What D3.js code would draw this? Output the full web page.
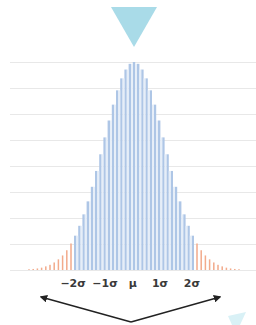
<!DOCTYPE html>
<html>
<head>
<meta charset="utf-8">
<script src="https://cdn.jsdelivr.net/npm/d3@7"></script>
<style>
	body { margin: 0; background: #fff; }
	svg { display: block; }
</style>
</head>
<body>
<script>
// bar offsets from the mean, in bar steps
var offsets = d3.range(-25, 26);
// bar heights in grid units (one unit = one gridline), right half incl. centre
var halfHeights = [8, 7.93, 7.71, 7.37, 6.91, 6.36, 5.75, 5.10, 4.45, 3.81, 3.20,
	2.64, 2.14, 1.70, 1.32, 1.02, 0.76, 0.56, 0.41, 0.29, 0.20, 0.14, 0.09, 0.06, 0.04, 0.03];
var heights = offsets.map(function(k) { return halfHeights[Math.abs(k)]; });
var tailFrom = 15; // |offset| at which bars turn orange
var gridLevels = d3.range(0, 9);
var tickLabels = ["\u22122\u03c3", "\u22121\u03c3", "\u03bc", "1\u03c3", "2\u03c3"];
var tickOffsets = [-14.5, -6.9, -0.3, 6.2, 13.8];

(function(){
	var svg = d3.select("body")
			.append("svg")
			.attr("width", 256)
			.attr("height", 325);

	var x = d3.scaleLinear().domain([-25, 25]).range([29, 239]);
	var y = d3.scaleLinear().domain([0, 8]).range([270, 62]);

	svg.append("g").selectAll("line")
			.data(gridLevels)
			.join("line")
			.attr("x1", 10)
			.attr("x2", 256)
			.attr("y1", function(d) { return y(d) + 0.5; })
			.attr("y2", function(d) { return y(d) + 0.5; })
			.attr("stroke", "#e8e8e8")
			.attr("stroke-width", 1);

	var bars = offsets.map(function(k, i) { return {k: k, h: heights[i]}; });
	var isTail = function(d) { return Math.abs(d.k) >= tailFrom; };

	svg.append("g").selectAll("rect")
			.data(bars)
			.join("rect")
			.attr("x", function(d) { return isTail(d) ? x(d.k) - 0.75 : x(d.k) - 1.2; })
			.attr("width", function(d) { return isTail(d) ? 1.5 : 2.4; })
			.attr("y", function(d) { return y(d.h); })
			.attr("height", function(d) { return y(0) - y(d.h); })
			.attr("fill", function(d) { return isTail(d) ? "#f2ab8c" : "#aec6e6"; });

	// pale fill between the blue bars
	svg.append("g").selectAll("rect")
			.data(bars.filter(function(d, i) { return !isTail(d) && d.k < tailFrom - 1; }))
			.join("rect")
			.attr("x", function(d) { return x(d.k) + 1.2; })
			.attr("width", function(d) { return x(d.k + 1) - x(d.k) - 2.4; })
			.attr("y", function(d) { return y(Math.min(d.h, halfHeights[Math.abs(d.k + 1)])); })
			.attr("height", function(d) { return y(0) - y(Math.min(d.h, halfHeights[Math.abs(d.k + 1)])); })
			.attr("fill", "#e6eef8");

	// marker triangle above the peak
	svg.append("path")
			.attr("d", "M " + (x(0) - 23) + " 7 L " + (x(0) + 23) + " 7 L " + x(0) + " 47 Z")
			.attr("fill", "#a9dbe8");

	svg.append("g").selectAll("text")
			.data(tickLabels)
			.join("text")
			.attr("x", function(d, i) { return x(tickOffsets[i]); })
			.attr("y", 287)
			.attr("text-anchor", "middle")
			.attr("font-family", "DejaVu Sans")
			.attr("font-weight", "bold")
			.attr("font-size", 11)
			.attr("fill", "#3a3a3a")
			.text(function(d) { return d; });

	var defs = svg.append("defs");
	defs.append("marker")
			.attr("id", "head")
			.attr("viewBox", "0 0 10 10")
			.attr("refX", 8)
			.attr("refY", 5)
			.attr("markerWidth", 5.5)
			.attr("markerHeight", 5.5)
			.attr("orient", "auto")
			.append("path")
			.attr("d", "M 0 0 L 10 5 L 0 10 Z")
			.attr("fill", "#222");

	svg.append("path")
			.attr("d", "M 131 322 L 41 297")
			.attr("fill", "none")
			.attr("stroke", "#222")
			.attr("stroke-width", 1.4)
			.attr("marker-end", "url(#head)");
	svg.append("path")
			.attr("d", "M 131 322 L 220 297")
			.attr("fill", "none")
			.attr("stroke", "#222")
			.attr("stroke-width", 1.4)
			.attr("marker-end", "url(#head)");

	// faint cyan shape in the bottom right corner
	svg.append("path")
			.attr("d", "M 228 316 L 246 312 L 240 325 L 232 325 Z")
			.attr("fill", "#d9f1f6");
})();
</script>
</body>
</html>
